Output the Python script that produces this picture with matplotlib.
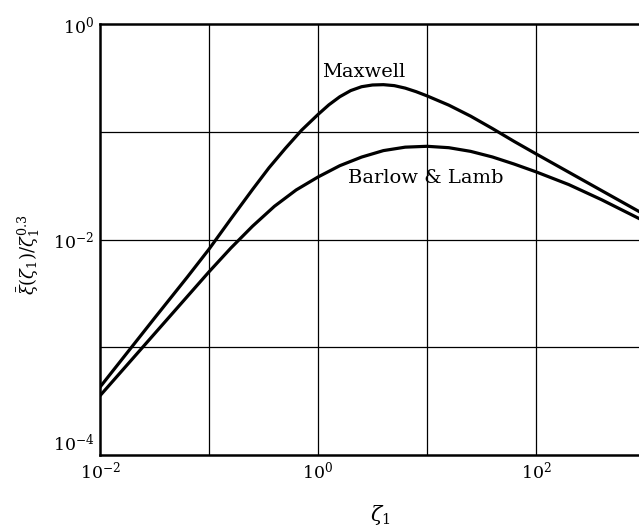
import numpy as np
from matplotlib import pyplot as plt

plt.rcParams['font.family'] = 'DejaVu Serif'
plt.rcParams['mathtext.fontset'] = 'dejavuserif'

# curves, as log10 values
maxwell_logx = [-2.0, -1.5, -1.2, -1.0, -0.8, -0.6, -0.45, -0.3, -0.15, 0.0, 0.1, 0.2, 0.3,
                0.4, 0.5, 0.6, 0.7, 0.8, 0.9, 1.0, 1.2, 1.4, 1.6, 1.8, 2.0, 2.3, 2.6, 2.945]
maxwell_logy = [-3.37, -2.73, -2.35, -2.09, -1.81, -1.535, -1.335, -1.155, -0.985, -0.84,
                -0.75, -0.675, -0.618, -0.582, -0.566, -0.563, -0.572, -0.595, -0.628,
                -0.667, -0.753, -0.855, -0.97, -1.09, -1.205, -1.375, -1.545, -1.74]
barlow_logx = [-2.0, -1.5, -1.0, -0.8, -0.6, -0.4, -0.2, 0.0, 0.2, 0.4, 0.6, 0.8, 1.0,
               1.2, 1.4, 1.6, 1.8, 2.0, 2.3, 2.6, 2.945]
barlow_logy = [-3.45, -2.875, -2.30, -2.08, -1.876, -1.692, -1.54, -1.42, -1.315, -1.235,
               -1.175, -1.143, -1.135, -1.148, -1.182, -1.234, -1.30, -1.372, -1.49, -1.63,
               -1.805]

x_ticks = [1e-2, 1e0, 1e2]
x_tick_labels = ['$10^{-2}$', '$10^{0}$', '$10^{2}$']
y_ticks = [1e-4, 1e-2, 1e0]
y_tick_labels = ['$10^{-4}$', '$10^{-2}$', '$10^{0}$']
grid_x = [1e-1, 1e0, 1e1, 1e2]
grid_y = [1e-3, 1e-2, 1e-1]

fig = plt.figure(figsize=(6.39, 5.27), dpi=100)
ax = fig.add_axes([100 / 639, 72 / 527, 539 / 639, 431 / 527])

ax.plot(np.power(10.0, maxwell_logx), np.power(10.0, maxwell_logy), color='black', lw=2.3)
ax.plot(np.power(10.0, barlow_logx), np.power(10.0, barlow_logy), color='black', lw=2.3)

ax.set_xscale('log')
ax.set_yscale('log')
ax.set_xlim(1e-2, 10 ** 2.945)
ax.set_ylim(1e-4, 1e0)

for g in grid_x:
    ax.axvline(g, color='black', lw=0.9, zorder=0)
for g in grid_y:
    ax.axhline(g, color='black', lw=0.9, zorder=0)

ax.set_xticks(x_ticks)
ax.set_xticklabels(x_tick_labels, fontsize=12.5)
ax.set_yticks(y_ticks)
ax.set_yticklabels(y_tick_labels, fontsize=12.5)
ax.minorticks_off()
ax.tick_params(length=0, pad=4)
ax.get_yticklabels()[0].set_va('bottom')

for side in ['left', 'top', 'bottom']:
    ax.spines[side].set_linewidth(1.8)
ax.spines['right'].set_visible(False)

ax.text(10 ** 0.037, 10 ** -0.444, 'Maxwell', fontsize=14, va='center', ha='left')
ax.text(10 ** 0.275, 10 ** -1.426, 'Barlow & Lamb', fontsize=14, va='center', ha='left')

ax.set_xlabel(r'$\zeta_1$', fontsize=15)
ax.xaxis.set_label_coords(0.52, -0.112)
ax.set_ylabel(r'$\bar{\xi}(\zeta_1)/\zeta_1^{0.3}$', fontsize=13)
ax.yaxis.set_label_coords(-0.108, 0.464)

plt.savefig('out.png', dpi=100)
